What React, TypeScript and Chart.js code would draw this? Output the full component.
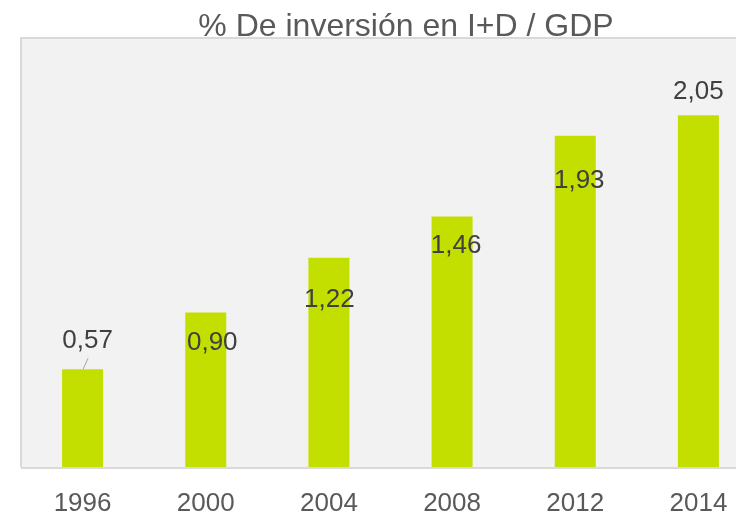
import React, { useEffect, useRef } from "react";
import { Chart, registerables } from "chart.js";

Chart.register(...registerables);

const titleText = "% De inversión en I+D / GDP";
const years = ["1996", "2000", "2004", "2008", "2012", "2014"];
const values = [0.57, 0.9, 1.22, 1.46, 1.93, 2.05];
const valueLabels = ["0,57", "0,90", "1,22", "1,46", "1,93", "2,05"];
// manual label offsets (dx, dy) from bar top-centre, as placed in the original
const labelDx = [5, 6.5, 0.5, 4, 4, 0];
const labelDy = [-28, 30, 42, 29, 45, -23];
const labelLeader = [true, false, false, false, false, false];

const FONT = "'Liberation Sans', Arial, sans-serif";

const decorPlugin = {
  id: "decor",
  beforeDatasetsDraw(chart: any) {
    const { ctx, chartArea: a } = chart;
    ctx.save();
    ctx.fillStyle = "#f2f2f2";
    ctx.fillRect(a.left, a.top, a.right - a.left, a.bottom - a.top);
    ctx.strokeStyle = "#d9d9d9";
    ctx.lineWidth = 2;
    ctx.beginPath();
    ctx.moveTo(a.right + 40, a.top);
    ctx.lineTo(a.left, a.top);
    ctx.lineTo(a.left, a.bottom);
    ctx.stroke();
    ctx.restore();
  },
  afterDatasetsDraw(chart: any) {
    const { ctx, chartArea: a } = chart;
    ctx.save();
    ctx.strokeStyle = "#d9d9d9";
    ctx.lineWidth = 2;
    ctx.beginPath();
    ctx.moveTo(a.left, a.bottom + 1);
    ctx.lineTo(a.right + 40, a.bottom + 1);
    ctx.stroke();

    const meta = chart.getDatasetMeta(0);
    ctx.font = `26px ${FONT}`;
    ctx.fillStyle = "#404040";
    ctx.textAlign = "center";
    ctx.textBaseline = "middle";
    meta.data.forEach((bar: any, i: number) => {
      const x = bar.x + labelDx[i];
      const y = bar.y + labelDy[i];
      ctx.fillText(valueLabels[i], x, y);
      if (labelLeader[i]) {
        ctx.save();
        ctx.strokeStyle = "#a6a6a6";
        ctx.lineWidth = 1;
        ctx.beginPath();
        ctx.moveTo(x + 0.5, y + 17);
        ctx.lineTo(bar.x + 0.5, bar.y);
        ctx.stroke();
        ctx.restore();
      }
    });

    ctx.font = `32px ${FONT}`;
    ctx.fillStyle = "#595959";
    ctx.textAlign = "center";
    ctx.textBaseline = "alphabetic";
    ctx.fillText(titleText, chart.width / 2, 36);
    ctx.restore();
  },
};

export default function App() {
  const ref = useRef<HTMLCanvasElement | null>(null);
  useEffect(() => {
    if (!ref.current) return;
    const chart = new Chart(ref.current, {
      type: "bar",
      data: {
        labels: years,
        datasets: [
          {
            data: values,
            backgroundColor: "#c3df00",
            borderWidth: 0,
            barPercentage: 0.333,
            categoryPercentage: 1,
          },
        ],
      },
      options: {
        animation: false,
        responsive: false,
        devicePixelRatio: 1,
        layout: { padding: { left: 21, right: 52, top: 38, bottom: 0 } },
        plugins: {
          legend: { display: false },
          title: { display: false },
          tooltip: { enabled: false },
        },
        scales: {
          y: { display: false, min: 0, max: 2.5 },
          x: {
            grid: { display: false },
            border: { display: false },
            ticks: {
              color: "#595959",
              font: { family: FONT, size: 26 },
              padding: 13,
              maxRotation: 0,
              autoSkip: false,
            },
            afterFit(scale: any) {
              scale.height = 47;
            },
          },
        },
      },
      plugins: [decorPlugin],
    });
    return () => chart.destroy();
  }, []);
  return (
    <div
      style={{
        position: "fixed",
        left: 0,
        top: 0,
        width: 736,
        height: 514,
        overflow: "hidden",
        background: "#ffffff",
      }}
    >
      <canvas ref={ref} width={812} height={514} style={{ width: 812, height: 514, display: "block" }} />
    </div>
  );
}
